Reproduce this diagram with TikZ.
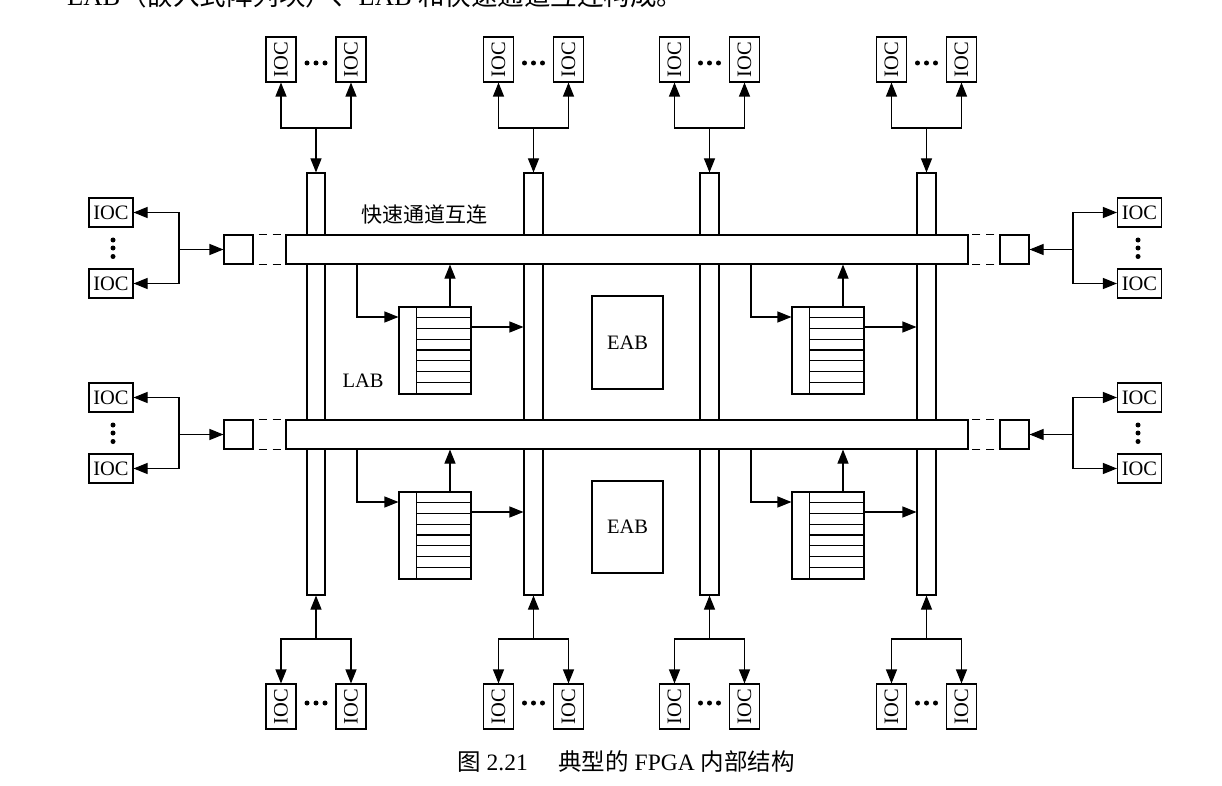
\documentclass[tikz,border=0pt]{standalone}
\usepackage{fontspec}
\usepackage{graphicx}
\setmainfont{Liberation Serif}
\newfontfamily\cjk{Noto Sans CJK SC}
\usetikzlibrary{arrows.meta}
\tikzset{
  ln/.style={line width=1.1pt},
  arr/.style={ln,-{Triangle[length=14pt,width=11pt]}},
  darr/.style={ln,{Triangle[length=14pt,width=11pt]}-{Triangle[length=14pt,width=11pt]}},
  bar/.style={draw,ln,fill=white,inner sep=0pt,rectangle},
  ioch/.style={draw,ln,fill=white,inner sep=0pt,minimum width=44pt,minimum height=29pt,font=\fontsize{20.5}{24}\selectfont},
  iocv/.style={draw,ln,fill=white,inner sep=0pt,minimum width=30pt,minimum height=45pt,font=\fontsize{20.5}{24}\selectfont},
  labbox/.style={draw,ln,fill=white,inner sep=0pt,minimum width=72pt,minimum height=87pt},
  eabbox/.style={draw,ln,fill=white,inner sep=0pt,minimum width=71pt,font=\fontsize{20.5}{24}\selectfont},
  dashline/.style={line width=1.3pt,dash pattern=on 0pt off 5pt on 8pt off 6pt on 8pt off 6pt},
  dotmark/.style={fill=black,inner sep=0pt,minimum size=5pt,circle},
  lbl/.style={font=\fontsize{20.5}{24}\selectfont,inner sep=0pt}
}
\begin{document}
\begin{tikzpicture}[x=1pt,y=-1pt]
\useasboundingbox (0,0) rectangle (1222,786);
\clip (0,0) rectangle (1222,786);

% cut-off text line at the top (the reference shows only its lower part)
\node[anchor=base west,inner sep=0pt,font=\fontsize{26.5}{30}\selectfont] (topline) at (67,6)
  {EAB{\cjk （嵌入式阵列块）、}LAB {\cjk 和快速通道互连构成。}};

% vertical interconnect bars
\node[bar,minimum width=18pt,minimum height=422pt] (vA) at (316,384) {};
\node[bar,minimum width=19pt,minimum height=422pt] (vB) at (533.5,384) {};
\node[bar,minimum width=19pt,minimum height=422pt] (vC) at (709.5,384) {};
\node[bar,minimum width=19pt,minimum height=422pt] (vD) at (926.5,384) {};

% horizontal interconnect bars
\node[bar,minimum width=682pt,minimum height=29pt] (h1) at (627,249.5) {};
\node[bar,minimum width=682pt,minimum height=29pt] (h2) at (627,434.5) {};

% small end boxes
\node[bar,minimum width=29pt,minimum height=29pt] (l1) at (238.5,249.5) {};
\node[bar,minimum width=29pt,minimum height=29pt] (l2) at (238.5,434.5) {};
\node[bar,minimum width=29pt,minimum height=29pt] (r1) at (1014.5,249.5) {};
\node[bar,minimum width=29pt,minimum height=29pt] (r2) at (1014.5,434.5) {};
\draw[dashline] (l1.north east) -- (h1.north west);
\draw[dashline] (l1.south east) -- (h1.south west);
\draw[dashline] (l2.north east) -- (h2.north west);
\draw[dashline] (l2.south east) -- (h2.south west);
\draw[dashline] (r1.north west) -- (h1.north east);
\draw[dashline] (r1.south west) -- (h1.south east);
\draw[dashline] (r2.north west) -- (h2.north east);
\draw[dashline] (r2.south west) -- (h2.south east);

\node[lbl,font=\cjk\fontsize{21}{24}\selectfont] (fastlbl) at (424,215) {快速通道互连};

% top and bottom IOC groups
\foreach \n/\c in {A/316,B/533.5,C/709.5,D/926.5}{
  \node[iocv] (t\n1) at (\c-35,59.5) {\rotatebox{90}{IOC}};
  \node[iocv] (t\n2) at (\c+35,59.5) {\rotatebox{90}{IOC}};
  \node[dotmark] (td\n1) at (\c-9,63) {};
  \node[dotmark] (td\n2) at (\c,63) {};
  \node[dotmark] (td\n3) at (\c+9,63) {};
  \coordinate (tj\n) at (\c,128);
  \draw[darr] (t\n1.south) |- (tj\n) -| (t\n2.south);
  \draw[arr] (tj\n) -- (v\n.north);
  \node[iocv] (b\n1) at (\c-35,706.5) {\rotatebox{90}{IOC}};
  \node[iocv] (b\n2) at (\c+35,706.5) {\rotatebox{90}{IOC}};
  \node[dotmark] (bd\n1) at (\c-9,703) {};
  \node[dotmark] (bd\n2) at (\c,703) {};
  \node[dotmark] (bd\n3) at (\c+9,703) {};
  \coordinate (bj\n) at (\c,639);
  \draw[darr] (b\n1.north) |- (bj\n) -| (b\n2.north);
  \draw[arr] (bj\n) -- (v\n.south);
}

% left and right IOC groups
\foreach \k/\y in {1/249.5,2/434.5}{
  \node[ioch] (L\k a) at (111,\y-37) {IOC};
  \node[ioch] (L\k b) at (111,\y+34) {IOC};
  \node[dotmark] (Ld\k1) at (113,\y-9.5) {};
  \node[dotmark] (Ld\k2) at (113,\y-1.5) {};
  \node[dotmark] (Ld\k3) at (113,\y+7) {};
  \coordinate (Lj\k) at (179,\y);
  \draw[darr] (L\k a.east) -| (Lj\k) |- (L\k b.east);
  \draw[arr] (Lj\k) -- (l\k.west);
  \node[ioch] (R\k a) at (1139.5,\y-37) {IOC};
  \node[ioch] (R\k b) at (1139.5,\y+34) {IOC};
  \node[dotmark] (Rd\k1) at (1138,\y-9.5) {};
  \node[dotmark] (Rd\k2) at (1138,\y-1.5) {};
  \node[dotmark] (Rd\k3) at (1138,\y+7) {};
  \coordinate (Rj\k) at (1073,\y);
  \draw[darr] (R\k a.west) -| (Rj\k) |- (R\k b.west);
  \draw[arr] (Rj\k) -- (r\k.east);
}

% LAB blocks
\foreach \n/\x/\y/\h/\fx/\ux/\v in {1/435/350.5/h1/357/450/vB,2/828/350.5/h1/751/843/vD,3/435/535.5/h2/357/450/vB,4/828/535.5/h2/751/843/vD}{
  \node[labbox] (lab\n) at (\x,\y) {};
  \begin{scope}[shift={(lab\n.north west)}]
    \draw[ln] (18,0) -- (18,87);
    \foreach \i in {1,...,7}{ \draw[ln] (18,\i*10.875) -- (72,\i*10.875); }
  \end{scope}
  \coordinate (fd\n) at (\fx,\y-33.5);
  \draw[arr] (fd\n |- \h.south) -- (fd\n) -- (fd\n -| lab\n.west);
  \coordinate (up\n) at (\ux,\y-43.5);
  \draw[arr] (up\n) -- (up\n |- \h.south);
  \coordinate (out\n) at (\x+36,\y-23.5);
  \draw[arr] (out\n) -- (out\n -| \v.west);
}
\node[lbl] (lablbl) at (363,381) {LAB};

% EAB blocks
\node[eabbox,minimum height=93pt] (eab1) at (627.5,342.5) {EAB};
\node[eabbox,minimum height=92pt] (eab2) at (627.5,527) {EAB};

% caption
\node[anchor=base,inner sep=0pt,font=\fontsize{23.5}{28}\selectfont] (caption) at (626,770)
  {{\cjk 图} 2.21\hspace{1.3em}{\cjk 典型的} FPGA {\cjk 内部结构}};
\end{tikzpicture}
\end{document}
